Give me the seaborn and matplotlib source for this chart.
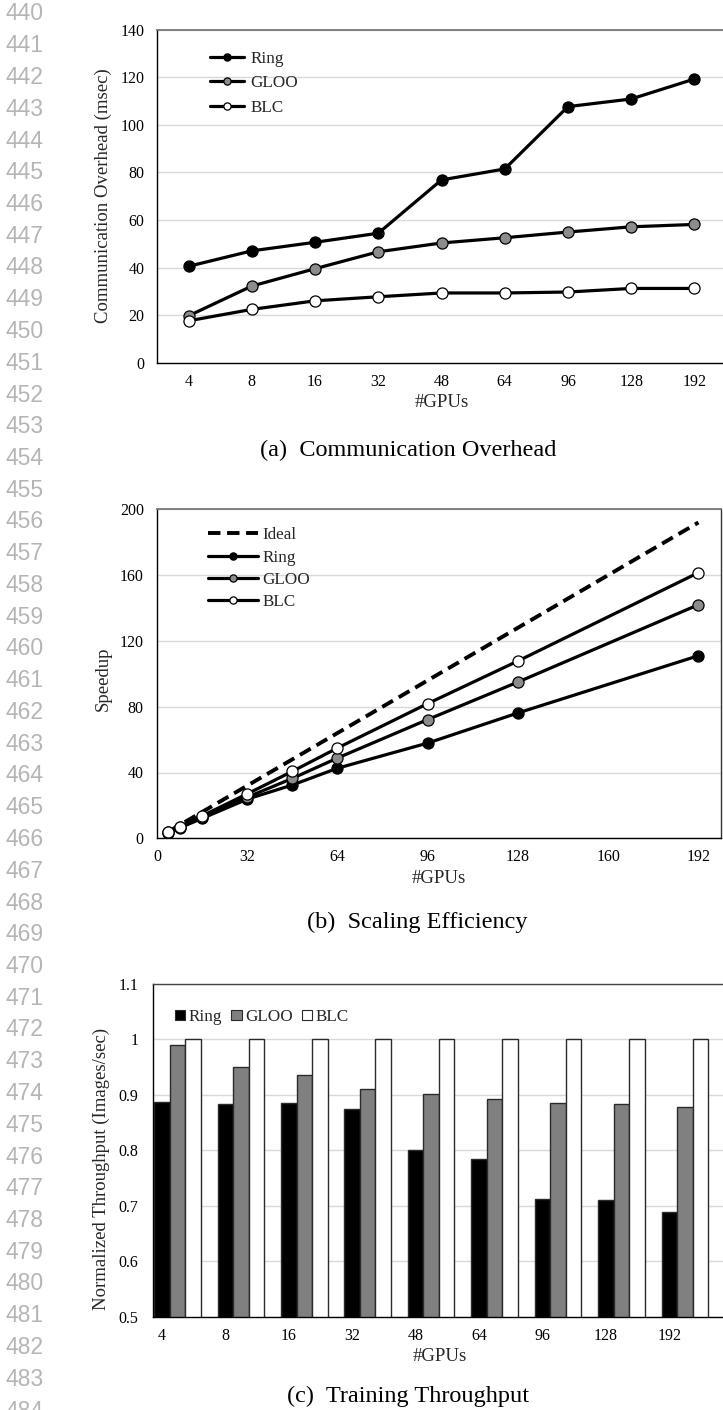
import numpy as np
import pandas as pd
import matplotlib
matplotlib.use("Agg")
import matplotlib.pyplot as plt
import seaborn as sns
from matplotlib.patches import Patch

# ---------------- data ----------------
gpu_labels = ["4", "8", "16", "32", "48", "64", "96", "128", "192"]
gpu_counts = [4, 8, 16, 32, 48, 64, 96, 128, 192]

# (a) communication overhead, msec
overhead_ring = [40.5, 47.0, 50.6, 54.4, 76.8, 81.4, 107.6, 110.8, 119.2]
overhead_gloo = [19.7, 32.2, 39.5, 46.6, 50.3, 52.5, 54.9, 57.1, 58.1]
overhead_blc = [17.6, 22.4, 26.0, 27.7, 29.3, 29.3, 29.7, 31.2, 31.2]

# (b) speedup
speedup_ideal = [4, 8, 16, 32, 48, 64, 96, 128, 192]
speedup_ring = [3.4, 6.3, 12.1, 23.8, 32.4, 42.6, 57.9, 76.2, 111.0]
speedup_gloo = [3.6, 6.7, 12.8, 25.0, 36.4, 48.8, 72.2, 95.0, 142.0]
speedup_blc = [3.7, 7.0, 13.6, 27.0, 40.7, 54.9, 81.9, 107.8, 161.5]

# (c) normalized throughput
thr_ring = [0.887, 0.884, 0.885, 0.875, 0.801, 0.785, 0.712, 0.710, 0.688]
thr_gloo = [0.990, 0.951, 0.935, 0.911, 0.901, 0.893, 0.885, 0.883, 0.879]
thr_blc = [1.0, 1.0, 1.0, 1.0, 1.0, 1.0, 1.0, 1.0, 1.0]

methods = ["Ring", "GLOO", "BLC"]
face = {"Ring": "black", "GLOO": "#8c8c8c", "BLC": "white"}
bar_face = {"Ring": "black", "GLOO": "#808080", "BLC": "white"}

# ---------------- style ----------------
sns.set_theme(style="white")
plt.rcParams["font.family"] = ["Liberation Serif", "DejaVu Serif"]
plt.rcParams["axes.linewidth"] = 1.0

W, H = 723, 1410
fig = plt.figure(figsize=(W / 100, H / 100), dpi=100)

TICK_FS = 11.5
LABEL_FS = 13.5
LEG_FS = 12.3
CAP_FS = 17.5


def px_axes(left, top, right, bottom):
    return fig.add_axes([left / W, 1 - bottom / H, (right - left) / W, (bottom - top) / H])


def frame(ax, right_visible):
    for s in ("left", "bottom"):
        ax.spines[s].set_color("black")
        ax.spines[s].set_linewidth(1.0)
    ax.spines["top"].set_color("#777777")
    ax.spines["top"].set_linewidth(1.3)
    ax.spines["right"].set_visible(right_visible)
    ax.spines["right"].set_color("#333333")
    ax.spines["right"].set_linewidth(1.0)
    ax.grid(axis="y", color="#d9d9d9", linewidth=1.0)
    ax.set_axisbelow(True)
    ax.tick_params(axis="both", length=0, labelsize=TICK_FS, colors="black")
    ax.tick_params(axis="x", pad=8)


LW = 2.3
MS = 8.0

# ---------------- (a) communication overhead ----------------
ax1 = px_axes(157, 29.5, 726, 362.7)
for name, vals in zip(methods, [overhead_ring, overhead_gloo, overhead_blc]):
    sns.lineplot(x=gpu_labels, y=vals, sort=False, ax=ax1, color="black", lw=LW,
                 marker="o", markersize=MS, markerfacecolor=face[name],
                 markeredgecolor="black", markeredgewidth=0.9, label=name)
ax1.set_xlim(-0.5, 8.5)
ax1.set_ylim(0, 140)
ax1.set_yticks(np.arange(0, 141, 20))
frame(ax1, False)
ax1.tick_params(axis="y", pad=9)
ax1.set_xlabel("#GPUs", fontsize=LABEL_FS, labelpad=3)
ax1.set_ylabel("Communication Overhead (msec)", fontsize=LABEL_FS, labelpad=6)
ax1.legend(loc="upper left", bbox_to_anchor=(0.093, 0.936), frameon=False,
           fontsize=LEG_FS, markerscale=0.65, handlelength=2.0, handletextpad=0.35,
           labelspacing=0.5, borderpad=0, borderaxespad=0)

# ---------------- (b) scaling efficiency ----------------
ax2 = px_axes(157, 509.3, 721, 838.3)
sns.lineplot(x=gpu_counts, y=speedup_ideal, ax=ax2, color="black", lw=2.8,
             linestyle=(0, (3.2, 1.7)), label="Ideal")
for name, vals in zip(methods, [speedup_ring, speedup_gloo, speedup_blc]):
    sns.lineplot(x=gpu_counts, y=vals, ax=ax2, color="black", lw=LW,
                 marker="o", markersize=MS, markerfacecolor=face[name],
                 markeredgecolor="black", markeredgewidth=0.9, label=name)
ax2.set_xlim(0, 200)
ax2.set_ylim(0, 200)
ax2.set_xticks(np.arange(0, 193, 32))
ax2.set_yticks(np.arange(0, 201, 40))
frame(ax2, True)
ax2.tick_params(axis="y", pad=9.5)
ax2.set_xlabel("#GPUs", fontsize=LABEL_FS, labelpad=3)
ax2.set_ylabel("Speedup", fontsize=LABEL_FS, labelpad=6, y=0.485)
ax2.legend(loc="upper left", bbox_to_anchor=(0.091, 0.945), frameon=False,
           fontsize=LEG_FS, markerscale=0.65, handlelength=2.9, handletextpad=0.25,
           labelspacing=0.37, borderpad=0, borderaxespad=0)

# ---------------- (c) training throughput ----------------
ax3 = px_axes(153, 984, 726, 1316.7)
thr = pd.DataFrame({
    "gpus": gpu_labels * 3,
    "method": [m for m in methods for _ in gpu_labels],
    "value": thr_ring + thr_gloo + thr_blc,
})
sns.barplot(data=thr, x="gpus", y="value", hue="method", order=gpu_labels,
            hue_order=methods, palette=bar_face, saturation=1, width=0.733,
            edgecolor="#2a2a2a", linewidth=1.0, ax=ax3, legend=False)
ax3.set_xlim(-0.386, 8.65)
ax3.set_ylim(0.5, 1.1)
ax3.set_yticks([0.5, 0.6, 0.7, 0.8, 0.9, 1.0, 1.1])
ax3.set_yticklabels(["0.5", "0.6", "0.7", "0.8", "0.9", "1", "1.1"])
ax3.set_xticks(np.arange(len(gpu_labels)) - 0.733 / 3, gpu_labels)
frame(ax3, False)
ax3.spines["top"].set_color("#444444")
ax3.spines["top"].set_linewidth(1.0)
ax3.tick_params(axis="y", pad=10.5)
ax3.set_xlabel("#GPUs", fontsize=LABEL_FS, labelpad=3)
ax3.set_ylabel("Normalized Throughput (Images/sec)", fontsize=LABEL_FS, labelpad=6, y=0.444)
handles = [Patch(facecolor=bar_face[m], edgecolor="#2a2a2a", linewidth=0.8, label=m)
           for m in methods]
ax3.legend(handles=handles, loc="upper left", bbox_to_anchor=(0.038, 0.925), ncol=3,
           frameon=False, fontsize=LEG_FS, handlelength=0.6, handleheight=0.6,
           handletextpad=0.2, columnspacing=0.55, borderpad=0, borderaxespad=0)

# ---------------- captions ----------------
cap_kw = dict(ha="center", va="center", fontsize=CAP_FS, color="black")
fig.text(408 / W, 1 - 450 / H, "(a)  Communication Overhead", **cap_kw)
fig.text(417 / W, 1 - 922 / H, "(b)  Scaling Efficiency", **cap_kw)
fig.text(408 / W, 1 - 1396 / H, "(c)  Training Throughput", **cap_kw)

# ---------------- line numbers ----------------
for n in range(440, 485):
    fig.text(6 / W, 1 - (14 + (n - 440) * 31.75) / H, str(n), ha="left", va="center",
             fontsize=16.5, color="#b5b5b5", family=["Liberation Sans", "DejaVu Sans"])

fig.savefig("out.png", dpi=100)
